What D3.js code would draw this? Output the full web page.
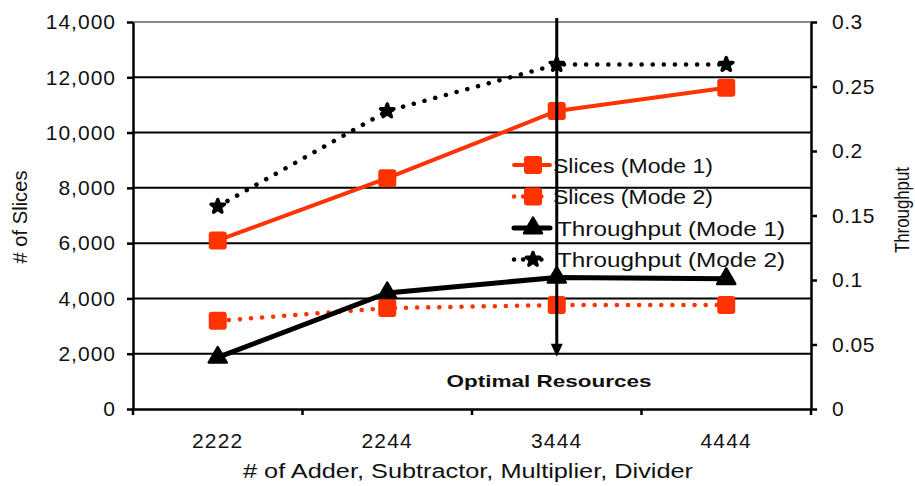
<!DOCTYPE html>
<html>
<head>
<meta charset="utf-8">
<script src="https://cdn.jsdelivr.net/npm/d3@7"></script>
<style>
  body { margin: 0; background: #fff; }
  text { font-family: "Liberation Sans", Arial, sans-serif; fill: #111; }
</style>
</head>
<body>
<svg id="chart" width="915" height="486"></svg>
<script>
const categories = ["2222", "2244", "3444", "4444"];
const slicesMode1 = [6100, 8350, 10780, 11620];
const slicesMode2 = [3190, 3650, 3760, 3760];
const throughputMode1 = [0.040, 0.090, 0.102, 0.101];
const throughputMode2 = [0.157, 0.231, 0.267, 0.267];
const leftTicks = [0, 2000, 4000, 6000, 8000, 10000, 12000, 14000];
const rightTicks = [0, 0.05, 0.1, 0.15, 0.2, 0.25, 0.3];
const optimalCategory = "3444";

const margin = {top: 22, right: 104, bottom: 77, left: 133};
const width = 915, height = 486;
const RED = "#ff3300";

const svg = d3.select("#chart");
const g = svg.append("g").attr("transform", `translate(${margin.left},${margin.top})`);
const w = width - margin.left - margin.right;
const h = height - margin.top - margin.bottom;

const x = d3.scaleBand().domain(categories).range([0, w]);
const yL = d3.scaleLinear().domain([0, 14000]).range([h, 0]);
const yR = d3.scaleLinear().domain([0, 0.3]).range([h, 0]);
const cx = d => x(d) + x.bandwidth() / 2;

// gridlines
g.append("g").selectAll("line")
  .data(leftTicks.filter(t => t > 0))
  .join("line")
  .attr("x1", 0).attr("x2", w)
  .attr("y1", d => yL(d)).attr("y2", d => yL(d))
  .attr("stroke", d => d === 14000 ? "#888" : "#000")
  .attr("stroke-width", 2);

// axes
const leftAxis = g.append("g")
  .call(d3.axisLeft(yL).tickValues(leftTicks).tickFormat(d3.format(",")).tickSize(6).tickSizeOuter(0));
const rightAxis = g.append("g").attr("transform", `translate(${w},0)`)
  .call(d3.axisRight(yR).tickValues(rightTicks).tickFormat(d => String(+d.toFixed(2))).tickSize(6).tickSizeOuter(0));
const bottomAxis = g.append("g").attr("transform", `translate(0,${h})`)
  .call(d3.axisBottom(x).tickSize(0).tickSizeOuter(0));

[leftAxis, rightAxis, bottomAxis].forEach(a => {
  a.select(".domain").attr("stroke", "#000").attr("stroke-width", 2.5);
  a.selectAll(".tick line").attr("stroke", "#000").attr("stroke-width", 2.5);
  a.selectAll(".tick text").attr("font-family", null).attr("fill", "#111");
});
leftAxis.selectAll(".tick text").attr("font-size", 21).attr("letter-spacing", 1).attr("x", -17);
rightAxis.selectAll(".tick text").attr("font-size", 21).attr("letter-spacing", 0.5).attr("x", 21);
bottomAxis.selectAll(".tick text")
  .attr("font-size", 21).attr("letter-spacing", 1.2)
  .attr("dy", null).attr("y", 39);

// x ticks at band boundaries
g.append("g").selectAll("line")
  .data(d3.range(categories.length + 1))
  .join("line")
  .attr("x1", i => i * x.bandwidth()).attr("x2", i => i * x.bandwidth())
  .attr("y1", h).attr("y2", h + 6)
  .attr("stroke", "#000").attr("stroke-width", 2.5);

// axis titles (condensed look via textLength)
svg.append("text")
  .attr("transform", `translate(27,217) rotate(-90)`)
  .attr("text-anchor", "middle").attr("font-size", 21)
  .attr("textLength", 93).attr("lengthAdjust", "spacingAndGlyphs")
  .text("# of Slices");
svg.append("text")
  .attr("transform", `translate(909,210) rotate(-90)`)
  .attr("text-anchor", "middle").attr("font-size", 21)
  .attr("textLength", 86).attr("lengthAdjust", "spacingAndGlyphs")
  .text("Throughput");
svg.append("text")
  .attr("x", 468).attr("y", 478)
  .attr("text-anchor", "middle").attr("font-size", 20)
  .attr("textLength", 450).attr("lengthAdjust", "spacingAndGlyphs")
  .text("# of Adder, Subtractor, Multiplier, Divider");

// series
const series = [
  {name: "Slices (Mode 1)", values: slicesMode1, y: yL, color: RED, width: 4, dash: null, marker: "square", tl: 160},
  {name: "Slices (Mode 2)", values: slicesMode2, y: yL, color: RED, width: 4.5, dash: "0.1 11", marker: "square", tl: 160},
  {name: "Throughput (Mode 1)", values: throughputMode1, y: yR, color: "#000", width: 5, dash: null, marker: "triangle", tl: 228},
  {name: "Throughput (Mode 2)", values: throughputMode2, y: yR, color: "#000", width: 4.5, dash: "0.1 11", marker: "star", tl: 228}
];

function drawMarker(sel, s) {
  if (s.marker === "square") {
    sel.append("rect").attr("x", -9).attr("y", -9).attr("width", 18).attr("height", 18)
      .attr("rx", 3).attr("fill", s.color);
  } else if (s.marker === "triangle") {
    sel.append("path").attr("d", d3.symbol(d3.symbolTriangle, 140)())
      .attr("fill", s.color).attr("stroke", s.color).attr("stroke-width", 2.5).attr("stroke-linejoin", "round");
  } else {
    sel.append("path").attr("d", d3.symbol(d3.symbolStar, 55)())
      .attr("fill", s.color).attr("stroke", s.color).attr("stroke-width", 3.5).attr("stroke-linejoin", "round");
  }
}

series.forEach(s => {
  const line = d3.line().x((d, i) => cx(categories[i])).y(d => s.y(d));
  g.append("path").datum(s.values)
    .attr("d", line)
    .attr("fill", "none")
    .attr("stroke", s.color)
    .attr("stroke-width", s.width)
    .attr("stroke-linecap", "round")
    .attr("stroke-dasharray", s.dash);
  g.append("g").selectAll("g")
    .data(s.values)
    .join("g")
    .attr("transform", (d, i) => `translate(${cx(categories[i])},${s.y(d)})`)
    .each(function () { drawMarker(d3.select(this), s); });
});

// legend
const legend = svg.append("g").attr("transform", "translate(514,165)");
series.forEach((s, i) => {
  const row = legend.append("g").attr("transform", `translate(0,${i * 31.5})`);
  row.append("line").attr("x1", 0).attr("x2", 36).attr("y1", 0).attr("y2", 0)
    .attr("stroke", s.color).attr("stroke-width", s.width)
    .attr("stroke-linecap", "round").attr("stroke-dasharray", s.dash ? "0.1 9" : null);
  drawMarker(row.append("g").attr("transform", "translate(19,0)"), s);
  row.append("text")
    .attr("x", s.marker === "square" ? 39 : 43).attr("y", 0).attr("dy", "0.36em")
    .attr("font-size", 21)
    .attr("textLength", s.tl).attr("lengthAdjust", "spacingAndGlyphs")
    .text(s.name);
});

// optimal resources annotation
const ax = cx(optimalCategory);
g.append("line").attr("x1", ax).attr("x2", ax).attr("y1", -4).attr("y2", yL(2000) - 8)
  .attr("stroke", "#000").attr("stroke-width", 3);
g.append("path")
  .attr("d", `M${ax - 6},${yL(2000) - 10} L${ax + 6},${yL(2000) - 10} L${ax},${yL(2000) + 3} Z`)
  .attr("fill", "#000");
svg.append("text")
  .attr("x", 549).attr("y", 387)
  .attr("text-anchor", "middle")
  .attr("font-weight", "bold").attr("font-size", 17)
  .attr("textLength", 205).attr("lengthAdjust", "spacingAndGlyphs")
  .text("Optimal Resources");
</script>
</body>
</html>
